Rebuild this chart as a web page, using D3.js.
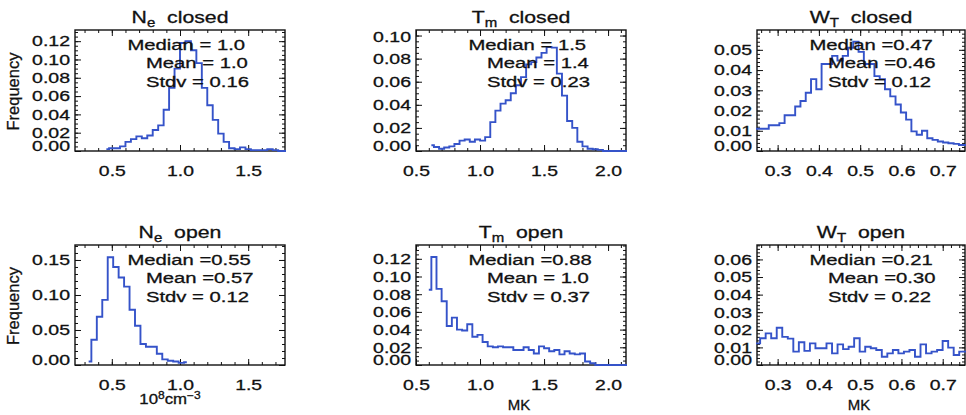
<!DOCTYPE html>
<html>
<head>
<meta charset="utf-8">
<script src="https://cdn.jsdelivr.net/npm/d3@7"></script>
<style>
  body { margin: 0; background: #fff; }
  svg text { font-family: "Liberation Sans", Arial, Helvetica, sans-serif; fill: #111; white-space: pre;
    stroke: #111; stroke-width: 0.3px; }
</style>
</head>
<body>
<svg id="chart" width="966" height="415"></svg>
<script>
// Histograms of N_e, T_m, W_T for closed / open regions

// bin = [first bin centre, bin width]
const neClosedBin = [0.46, 0.04];
const neClosedFreq = [0.002, 0.003, 0.003, 0.005, 0.010, 0.013, 0.016, 0.014, 0.017, 0.023, 0.028, 0.045,
  0.069, 0.090, 0.118, 0.120, 0.110, 0.096, 0.069, 0.050, 0.034, 0.019, 0.010, 0.003, 0.002, 0.004,
  0.002, 0.001, 0.001, 0.001, 0.002, 0.001, 0.000, 0.000];

const tmClosedBin = [0.62, 0.04];
const tmClosedFreq = [0.005, 0.0035, 0.002, 0.003, 0.004, 0.006, 0.009, 0.010, 0.008, 0.010, 0.009, 0.012,
  0.025, 0.035, 0.041, 0.044, 0.050, 0.057, 0.064, 0.075, 0.077, 0.081, 0.085, 0.090, 0.0895, 0.067,
  0.048, 0.026, 0.020, 0.008, 0.004, 0.002, 0.0015, 0.001, 0, 0, 0, 0, 0, 0];

const wtClosedBin = [0.2465, 0.0128];
const wtClosedFreq = [0.011, 0.011, 0.011, 0.0127, 0.0127, 0.0138, 0.0177, 0.0177, 0.022, 0.0247, 0.0288,
  0.0355, 0.0305, 0.043, 0.043, 0.047, 0.0447, 0.047, 0.051, 0.054, 0.049, 0.043, 0.043, 0.037, 0.0355,
  0.0305, 0.027, 0.023, 0.019, 0.0155, 0.0097, 0.008, 0.010, 0.0063, 0.0055, 0.0047, 0.0042, 0.0038,
  0.0035, 0.003, 0.003];

const neOpenBin = [0.33, 0.04];
const neOpenFreq = [0.005, 0.036, 0.069, 0.093, 0.154, 0.140, 0.125, 0.112, 0.079, 0.056, 0.030, 0.026,
  0.026, 0.016, 0.008, 0.006, 0.005, 0.003, 0.004];

const tmOpenBin = [0.60, 0.04];
const tmOpenFreq = [0.085, 0.122, 0.086, 0.072, 0.044, 0.0535, 0.040, 0.039, 0.046, 0.032, 0.034, 0.026,
  0.021, 0.020, 0.021, 0.020, 0.020, 0.017, 0.017, 0.020, 0.017, 0.013, 0.021, 0.019, 0.0155, 0.017,
  0.012, 0.0155, 0.013, 0.012, 0.013, 0.004, 0.002, 0, 0, 0, 0, 0, 0, 0];

const wtOpenBin = [0.2375, 0.0134];
const wtOpenFreq = [0.0123, 0.0123, 0.0152, 0.018, 0.0152, 0.0212, 0.016, 0.015, 0.0076, 0.0129, 0.008,
  0.0123, 0.0095, 0.0095, 0.0123, 0.0066, 0.0117, 0.009, 0.0104, 0.0152, 0.0076, 0.0104, 0.0095, 0.0085,
  0.0047, 0.0066, 0.0085, 0.0066, 0.0076, 0.0085, 0.0047, 0.0117, 0.0066, 0.0076, 0.0085, 0.0136, 0.0099,
  0.0057, 0.0076, 0.0076];

// axis ranges and ticks
const neRange = [0.23, 1.77], tmRange = [0.5, 2.14], wtRange = [0.25, 0.754];
const neTicks = [0.5, 1.0, 1.5];
const tmTicks = [0.5, 1.0, 1.5, 2.0];
const wtTicks = [0.3, 0.4, 0.5, 0.6, 0.7];

const neClosedYTicks = [0, 0.02, 0.04, 0.06, 0.08, 0.10, 0.12];
const tmClosedYTicks = [0, 0.02, 0.04, 0.06, 0.08, 0.10];
const wtClosedYTicks = [0, 0.01, 0.02, 0.03, 0.04, 0.05];
const neOpenYTicks = [0, 0.05, 0.10, 0.15];
const tmOpenYTicks = [0, 0.02, 0.04, 0.06, 0.08, 0.10, 0.12];
const wtOpenYTicks = [0, 0.01, 0.02, 0.03, 0.04, 0.05, 0.06];

const neClosedStats = ["Median = 1.0", "Mean = 1.0", "Stdv = 0.16"];
const tmClosedStats = ["Median = 1.5", "Mean = 1.4", "Stdv = 0.23"];
const wtClosedStats = ["Median =0.47", "Mean =0.46", "Stdv = 0.12"];
const neOpenStats = ["Median =0.55", "Mean =0.57", "Stdv = 0.12"];
const tmOpenStats = ["Median =0.88", "Mean = 1.0", "Stdv = 0.37"];
const wtOpenStats = ["Median =0.21", "Mean =0.30", "Stdv = 0.22"];

const panels = [
  { title: ["N", "e", "  closed"], bin: neClosedBin, freq: neClosedFreq, xRange: neRange, xTicks: neTicks, xMinor: 0.1,
    yMax: 0.1322, yTicks: neClosedYTicks, yMinor: 0.005, stats: neClosedStats, col: 0, row: 0, yLabel: true },
  { title: ["T", "m", "  closed"], bin: tmClosedBin, freq: tmClosedFreq, xRange: tmRange, xTicks: tmTicks, xMinor: 0.1,
    yMax: 0.1048, yTicks: tmClosedYTicks, yMinor: 0.005, stats: tmClosedStats, col: 1, row: 0 },
  { title: ["W", "T", "  closed"], bin: wtClosedBin, freq: wtClosedFreq, xRange: wtRange, xTicks: wtTicks, xMinor: 0.02,
    yMax: 0.0598, yTicks: wtClosedYTicks, yMinor: 0.002, stats: wtClosedStats, col: 2, row: 0 },
  { title: ["N", "e", "  open"], bin: neOpenBin, freq: neOpenFreq, xRange: neRange, xTicks: neTicks, xMinor: 0.1,
    yMax: 0.1714, yTicks: neOpenYTicks, yMinor: 0.01, stats: neOpenStats, col: 0, row: 1, yLabel: true, xTitle: "ne" },
  { title: ["T", "m", "  open"], bin: tmOpenBin, freq: tmOpenFreq, xRange: tmRange, xTicks: tmTicks, xMinor: 0.1,
    yMax: 0.1356, yTicks: tmOpenYTicks, yMinor: 0.005, stats: tmOpenStats, col: 1, row: 1, xTitle: "MK" },
  { title: ["W", "T", "  open"], bin: wtOpenBin, freq: wtOpenFreq, xRange: wtRange, xTicks: wtTicks, xMinor: 0.02,
    yMax: 0.0682, yTicks: wtOpenYTicks, yMinor: 0.002, stats: wtOpenStats, col: 2, row: 1, xTitle: "MK" }
];

// layout
const cols = [{ left: 75, right: 285 }, { left: 416, right: 626 }, { left: 757, right: 965 }];
const rows = [{ top: 30, bottom: 151 }, { top: 245, bottom: 365 }];
const lineColor = "#3553c9";
const SX = 1.3; // glyphs in the source are wider than Helvetica

const svg = d3.select("#chart");

function minorValues(domain, step) {
  const a = Math.ceil(domain[0] / step - 1e-6), b = Math.floor(domain[1] / step + 1e-6);
  return d3.range(a, b + 1).map(k => +(k * step).toFixed(6));
}

panels.forEach((p, i) => {
  const { left, right } = cols[p.col];
  const { top, bottom } = rows[p.row];
  const w = right - left, h = bottom - top;

  const g = svg.append("g").attr("transform", `translate(${left},${top})`);

  const x = d3.scaleLinear().domain(p.xRange).range([0, w]);
  const y = d3.scaleLinear().domain([0, p.yMax]).range([h, 0]);

  const xMin = minorValues(p.xRange, p.xMinor);
  const yMin = minorValues([0, p.yMax], p.yMinor);

  // minor ticks on all four sides
  g.append("g").attr("transform", `translate(0,${h})`)
    .call(d3.axisBottom(x).tickValues(xMin).tickSize(-3).tickFormat(""));
  g.append("g").call(d3.axisTop(x).tickValues(xMin).tickSize(-3).tickFormat(""));
  g.append("g").call(d3.axisLeft(y).tickValues(yMin).tickSize(-3).tickFormat(""));
  g.append("g").attr("transform", `translate(${w},0)`)
    .call(d3.axisRight(y).tickValues(yMin).tickSize(-3).tickFormat(""));

  // major ticks
  g.append("g").call(d3.axisTop(x).tickValues(p.xTicks).tickSize(-6).tickFormat(""));
  g.append("g").attr("transform", `translate(${w},0)`)
    .call(d3.axisRight(y).tickValues(p.yTicks).tickSize(-6).tickFormat(""));

  const xAxis = g.append("g").attr("transform", `translate(0,${h})`)
    .call(d3.axisBottom(x).tickValues(p.xTicks).tickSize(-6).tickPadding(14).tickFormat(d3.format(".1f")));
  xAxis.selectAll("text")
    .style("font-size", "15.5px")
    .attr("transform", "scale(1.25,1)");

  const pad = 5;
  const yAxis = g.append("g")
    .call(d3.axisLeft(y).tickValues(p.yTicks).tickSize(-6).tickPadding(pad).tickFormat(d3.format(".2f")));
  yAxis.selectAll("text")
    .style("font-size", "15px")
    .attr("x", -pad / SX)
    .attr("transform", `scale(${SX},1)`)
    // labels at the ends are pulled inside the axis span
    .attr("y", d => Math.max(7, Math.min(h - 5.5, y(d))) - y(d));

  g.selectAll(".domain").remove();
  g.selectAll(".tick line").attr("stroke", "#111").attr("stroke-width", 1);

  // frame
  g.append("rect")
    .attr("width", w).attr("height", h)
    .attr("fill", "none").attr("stroke", "#111").attr("stroke-width", 1.4);

  // histogram (step line centred on the bins)
  const pts = p.freq.map((v, k) => ({ c: p.bin[0] + k * p.bin[1], v }));
  g.append("clipPath").attr("id", "clip" + i)
    .append("rect").attr("x", -1).attr("y", -1).attr("width", w + 2).attr("height", h + 2);
  g.append("path")
    .datum(pts)
    .attr("clip-path", `url(#clip${i})`)
    .attr("fill", "none")
    .attr("stroke", lineColor)
    .attr("stroke-width", 1.9)
    .attr("d", d3.line().x(d => x(d.c)).y(d => y(d.v)).curve(d3.curveStep));

  // statistics
  const statX = [52.5, 71, 71], statY = [20, 38, 56.5];
  p.stats.forEach((s, k) => {
    g.append("text")
      .attr("transform", `translate(${statX[k]},${statY[k]}) scale(1.35,1)`)
      .style("font-size", "15px")
      .text(s);
  });

  // title with subscript
  const t = svg.append("text")
    .attr("transform", `translate(${left + w / 2},${top - 7.5}) scale(1.25,1)`)
    .attr("text-anchor", "middle")
    .style("font-size", "17px");
  t.append("tspan").text(p.title[0]);
  t.append("tspan").attr("dy", 4).style("font-size", "12px").text(p.title[1]);
  t.append("tspan").attr("dy", -4).text(p.title[2]);

  if (p.yLabel) {
    svg.append("text")
      .attr("transform", `translate(18.5,${top + h / 2 + 1}) rotate(-90)`)
      .attr("text-anchor", "middle")
      .style("font-size", "16.5px")
      .text("Frequency");
  }

  if (p.xTitle === "MK") {
    svg.append("text")
      .attr("transform", `translate(${left + w / 2 - 2},410)`)
      .attr("text-anchor", "middle")
      .style("font-size", "15px")
      .text("MK");
  } else if (p.xTitle === "ne") {
    const u = svg.append("text")
      .attr("transform", `translate(170,404) scale(1.2,1)`)
      .attr("text-anchor", "middle")
      .style("font-size", "14px");
    u.append("tspan").text("10");
    u.append("tspan").attr("dy", -5).style("font-size", "10px").text("8");
    u.append("tspan").attr("dy", 5).text("cm");
    u.append("tspan").attr("dy", -5).style("font-size", "10px").text("\u22123");
  }
});
</script>
</body>
</html>
